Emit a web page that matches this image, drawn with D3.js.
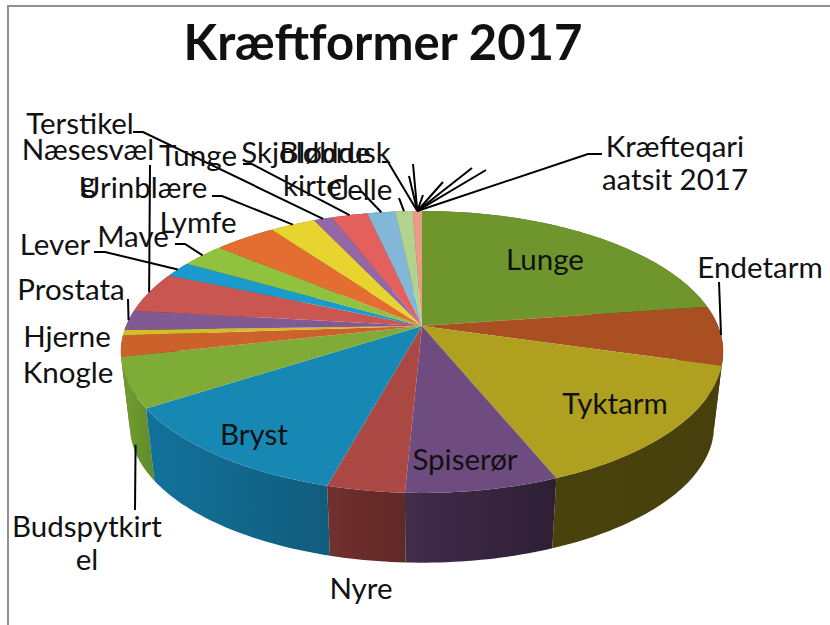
<!DOCTYPE html>
<html>
<head>
<meta charset="utf-8">
<script src="https://cdn.jsdelivr.net/npm/d3@7"></script>
<style>
    html, body { margin: 0; padding: 0; background: #fff; }
    svg { display: block; }
    text { font-family: "Lato", sans-serif; fill: #111; }
</style>
</head>
<body>
<div id="chart"></div>
<script>
// Slices clockwise from 12 o'clock, share of the pie in percent
var categories = ["Lunge", "Endetarm", "Tyktarm", "Spiserør", "Nyre", "Bryst", "Budspytkirtel", "Knogle", "Hjerne", "Prostata",
    "Næsesvælg", "Lever", "Mave", "Lymfe", "Urinblære", "Terstikel", "Tunge", "Celle", "Blødde", "Skjoldbruskkirtel"];
var values = [22.7, 6.8, 14.4, 6.9, 3.5, 11.6, 5.7, 2.4, 0.6, 2.3,
    4.7, 1.8, 2.8, 4.0, 2.9, 1.2, 2.3, 1.8, 1.1, 0.6];
var topColors = ["#6e962d", "#a94f22", "#afa01f", "#6f4c7f", "#ab4844", "#1788b3", "#7fac36", "#cc612b", "#d3bf24", "#825a93",
    "#ca5652", "#1b9bcd", "#90c23d", "#e46d31", "#e8d42f", "#9467a8", "#e3605c", "#82b7d8", "#b2d38d", "#e89c88"];
var sideLight = ["#4e6a20", "#70341a", "#4a420d", "#422c4a", "#70302e", "#12719a", "#6f9a2e", "#8a4220", "#8f8118", "#573d63",
    "#883a37", "#126a8c", "#628429", "#9a4a21", "#9d8f20", "#644671", "#99413e", "#587c92", "#78905f", "#9d6a5c"];
var sideDark = ["#3f561a", "#5a2a15", "#48400c", "#2e1f35", "#5f2826", "#115c7c", "#5f8a2a", "#70361a", "#746913", "#463250",
    "#6e2f2d", "#0f5672", "#506b21", "#7d3c1b", "#7f741a", "#51395c", "#7c3532", "#476476", "#61754d", "#7f564b"];

// Label layout in page pixels: text lines, centre x, first baseline
var labels = [
    {lines: ["Lunge"], x: 545, y: 270},
    {lines: ["Endetarm"], x: 760, y: 278},
    {lines: ["Tyktarm"], x: 615, y: 414},
    {lines: ["Spiserør"], x: 465, y: 470},
    {lines: ["Nyre"], x: 361, y: 599},
    {lines: ["Bryst"], x: 254, y: 445},
    {lines: ["Budspytkirt", "el"], x: 87, y: 537},
    {lines: ["Knogle"], x: 68, y: 383},
    {lines: ["Hjerne"], x: 67, y: 347},
    {lines: ["Prostata"], x: 71, y: 300},
    {lines: ["Næsesvæl", "g"], x: 88, y: 160},
    {lines: ["Lever"], x: 55, y: 255},
    {lines: ["Mave"], x: 133, y: 247},
    {lines: ["Lymfe"], x: 198, y: 233},
    {lines: ["Urinblære"], x: 143, y: 198},
    {lines: ["Terstikel"], x: 80, y: 134},
    {lines: ["Tunge"], x: 198, y: 166},
    {lines: ["Celle"], x: 360, y: 200},
    {lines: ["Blødde"], x: 325, y: 163},
    {lines: ["Skjoldbrusk", "kirtel"], x: 316, y: 163},
    {lines: ["Kræfteqari", "aatsit 2017"], x: 675, y: 157}
];

// Leader lines: slice index they run to, and the free end (with elbow if it has one)
var leaders = [
    {slice: 1, from: [[719, 282]]},
    {slice: 6, from: [[135, 510]], side: 0.85},
    {slice: 9, from: [[128, 299]]},
    {slice: 10, from: [[150, 165]]},
    {slice: 11, from: [[94, 252], [105, 252]]},
    {slice: 12, from: [[175, 244], [185, 244]]},
    {slice: 14, from: [[212, 196], [222, 196]]},
    {slice: 15, from: [[133, 132], [143, 132]]},
    {slice: 16, from: [[243, 164], [252, 164]]},
    {slice: 17, from: [[352, 192], [362, 192]]},
    {slice: 18, from: [[399, 198]]},
    {slice: 19, from: [[382, 162], [388, 162]]},
    {slice: 19, from: [[602, 154], [588, 154]]},
    // leaders of the empty slices, their labels are not shown
    {slice: 19, from: [[413, 164]]},
    {slice: 19, from: [[409, 176]]},
    {slice: 19, from: [[423, 195]]},
    {slice: 19, from: [[443, 182]]},
    {slice: 19, from: [[472, 168]]},
    {slice: 19, from: [[486, 170]]}
];

var w = 830, h = 625;

// Perspective of the pie: the centre of the circle lands at (apexX, apexY)
var apexX = 422, apexY = 326;
var radiusX = 296, radiusY = 136.2, tilt = -0.184;
// Lower rim of the pie is the upper rim moved down and shrunk a little
var ellipseX = 421, ellipseY = 352, depth = 74, lowerScale = 0.97;

function rim(a) {
    var x = Math.sin(a), y = -Math.cos(a);
    var q = 1 + tilt * y;
    return [apexX + radiusX * x / q, apexY + radiusY * y / q];
}

function lowerRim(a) {
    var p = rim(a);
    return [ellipseX + (p[0] - ellipseX) * lowerScale, ellipseY + depth + (p[1] - ellipseY) * lowerScale];
}

function arcAngles(d) {
    var n = Math.max(2, Math.ceil((d.endAngle - d.startAngle) / 0.02));
    return d3.range(n + 1).map(function(i) {
        return d.startAngle + (d.endAngle - d.startAngle) * i / n;
    });
}

var line = d3.line();
var arcs = d3.pie().sort(null).value(function(d) { return d; })(values);

var svg = d3.select("#chart")
    .append("svg")
    .attr("width", w)
    .attr("height", h);

// Frame of the pasted chart, it runs off the right and bottom edge
svg.append("path")
    .attr("d", line([[8, h], [8, 6], [w, 6]]))
    .attr("fill", "none")
    .attr("stroke", "#909090")
    .attr("stroke-width", 2);

svg.append("text")
    .attr("x", 383)
    .attr("y", 60)
    .attr("text-anchor", "middle")
    .style("font-size", "49px")
    .style("font-weight", 700)
    .text("Kræftformer 2017");

// One left-to-right gradient for each side wall
var defs = svg.append("defs");
arcs.forEach(function(d, i) {
    var pts = arcAngles(d).map(lowerRim);
    var xs = pts.map(function(p) { return p[0]; });
    var grad = defs.append("linearGradient")
        .attr("id", "side" + i)
        .attr("gradientUnits", "userSpaceOnUse")
        .attr("x1", d3.min(xs))
        .attr("x2", d3.max(xs))
        .attr("y1", 0)
        .attr("y2", 0);
    grad.append("stop").attr("offset", 0).attr("stop-color", sideLight[i]);
    grad.append("stop").attr("offset", 1).attr("stop-color", sideDark[i]);
});

// Side walls first, back to front, then the top of the pie hides the back ones
function wallDepth(d) {
    return lowerRim((d.startAngle + d.endAngle) / 2)[1];
}

svg.append("g")
    .selectAll("path")
    .data(arcs.slice().sort(function(a, b) { return wallDepth(a) - wallDepth(b); }))
    .enter()
    .append("path")
    .attr("d", function(d) {
        var angles = arcAngles(d);
        return line(angles.map(rim).concat(angles.slice().reverse().map(lowerRim))) + "Z";
    })
    .attr("fill", function(d) { return "url(#side" + d.index + ")"; });

svg.append("g")
    .selectAll("path")
    .data(arcs)
    .enter()
    .append("path")
    .attr("d", function(d) {
        return line([[apexX, apexY]].concat(arcAngles(d).map(rim))) + "Z";
    })
    .attr("fill", function(d) { return topColors[d.index]; });

svg.append("g")
    .selectAll("path")
    .data(leaders)
    .enter()
    .append("path")
    .attr("d", function(d) {
        var arc = arcs[d.slice];
        var mid = (arc.startAngle + arc.endAngle) / 2;
        var end = rim(mid);
        if (d.side) {
            var low = lowerRim(mid);
            end = [end[0] + (low[0] - end[0]) * d.side, end[1] + (low[1] - end[1]) * d.side];
        }
        return line(d.from.concat([end]));
    })
    .attr("fill", "none")
    .attr("stroke", "#000")
    .attr("stroke-width", 2);

var labelText = svg.append("g")
    .selectAll("text")
    .data(labels)
    .enter()
    .append("text")
    .attr("text-anchor", "middle")
    .style("font-size", "29.5px");

labelText.selectAll("tspan")
    .data(function(d) {
        return d.lines.map(function(t, i) {
            return {text: t, x: d.x, y: d.y + i * 33};
        });
    })
    .enter()
    .append("tspan")
    .attr("x", function(d) { return d.x; })
    .attr("y", function(d) { return d.y; })
    .text(function(d) { return d.text; });
</script>
</body>
</html>
